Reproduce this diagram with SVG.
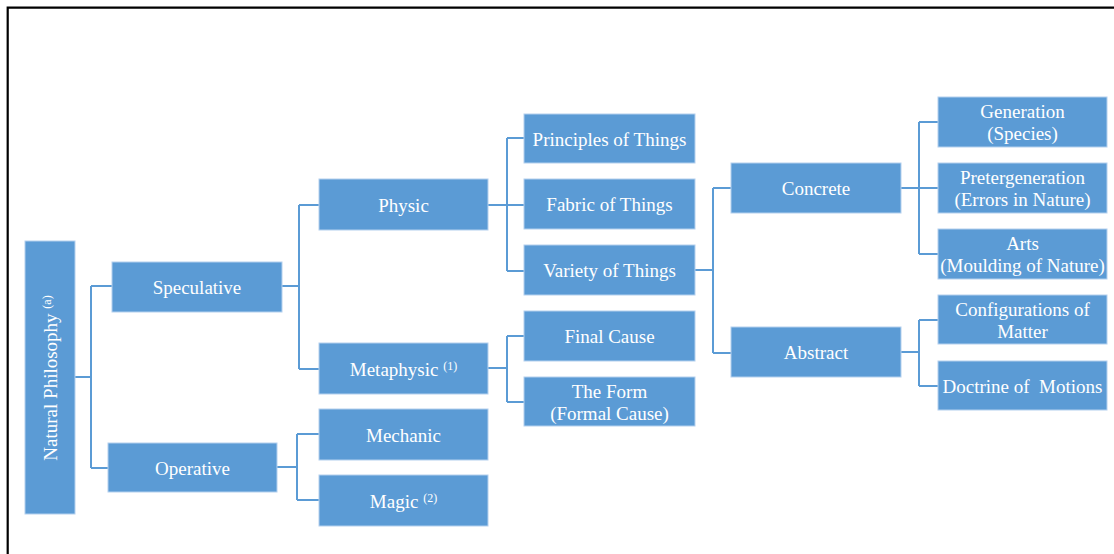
<svg xmlns="http://www.w3.org/2000/svg" width="1114" height="554" viewBox="0 0 1114 554">
<style>
.n rect{fill:#5B9BD5;stroke:#B4D0EE;stroke-width:1}
.n text{fill:#fff;font-family:"Liberation Serif","Times New Roman",serif;font-size:19px;text-anchor:middle}
.sup{font-size:12px}
.c path{fill:none;stroke:#5B9BD5;stroke-width:2}
</style>
<rect width="1114" height="554" fill="#fff"/>
<path d="M7.7,554 V7.7 H1114" fill="none" stroke="#000" stroke-width="2.2"/>
<g class="c">
<path d="M75,377 H91 M91,286 V468 M91,286 H112 M91,468 H108"/>
<path d="M282,286 H299 M299,205 V369 M299,205 H319 M299,369 H319"/>
<path d="M277,467 H297 M297,434 V500 M297,434 H319 M297,500 H319"/>
<path d="M488,205 H524 M507,138 V271 M507,138 H524 M507,271 H524"/>
<path d="M488,368 H507 M507,336 V402 M507,336 H524 M507,402 H524"/>
<path d="M695,270 H713 M713,188 V353 M713,188 H731 M713,353 H731"/>
<path d="M901,188 H938 M919,122 V254 M919,122 H938 M919,254 H938"/>
<path d="M901,352 H919 M919,320 V386 M919,320 H938 M919,386 H938"/>
</g>
<g id="natural-philosophy" class="n"><rect x="25" y="241" width="50" height="273"/><text transform="translate(57,378) rotate(-90)">Natural Philosophy <tspan class="sup" dy="-6">(a)</tspan></text></g>
<g id="speculative" class="n"><rect x="112" y="262" width="170" height="50"/><text x="197" y="294">Speculative</text></g>
<g id="operative" class="n"><rect x="108" y="443" width="169" height="49"/><text x="192.5" y="475">Operative</text></g>
<g id="physic" class="n"><rect x="319" y="179" width="169" height="51"/><text x="403.5" y="212">Physic</text></g>
<g id="metaphysic" class="n"><rect x="319" y="343" width="169" height="51"/><text x="403.5" y="376">Metaphysic <tspan class="sup" dy="-6">(1)</tspan></text></g>
<g id="mechanic" class="n"><rect x="319" y="409" width="169" height="51"/><text x="403.5" y="442">Mechanic</text></g>
<g id="magic" class="n"><rect x="319" y="475" width="169" height="51"/><text x="403.5" y="508">Magic <tspan class="sup" dy="-6">(2)</tspan></text></g>
<g id="principles" class="n"><rect x="524" y="114" width="171" height="49"/><text x="609.5" y="146">Principles of Things</text></g>
<g id="fabric" class="n"><rect x="524" y="179" width="171" height="50"/><text x="609.5" y="211">Fabric of Things</text></g>
<g id="variety" class="n"><rect x="524" y="245" width="171" height="50"/><text x="609.5" y="277">Variety of Things</text></g>
<g id="final-cause" class="n"><rect x="524" y="311" width="171" height="50"/><text x="609.5" y="343">Final Cause</text></g>
<g id="the-form" class="n"><rect x="524" y="377" width="171" height="49"/><text x="609.5" y="398">The Form</text><text x="609.5" y="420">(Formal Cause)</text></g>
<g id="concrete" class="n"><rect x="731" y="163" width="170" height="50"/><text x="816" y="195">Concrete</text></g>
<g id="abstract" class="n"><rect x="731" y="327" width="170" height="50"/><text x="816" y="359">Abstract</text></g>
<g id="generation" class="n"><rect x="938" y="97" width="169" height="50"/><text x="1022.5" y="118">Generation</text><text x="1022.5" y="140">(Species)</text></g>
<g id="pretergeneration" class="n"><rect x="938" y="163" width="169" height="50"/><text x="1022.5" y="184">Pretergeneration</text><text x="1022.5" y="206">(Errors in Nature)</text></g>
<g id="arts" class="n"><rect x="938" y="229" width="169" height="50"/><text x="1022.5" y="250">Arts</text><text x="1022.5" y="272">(Moulding of Nature)</text></g>
<g id="configurations" class="n"><rect x="938" y="295" width="169" height="49"/><text x="1022.5" y="316">Configurations of</text><text x="1022.5" y="338">Matter</text></g>
<g id="doctrine" class="n"><rect x="938" y="361" width="169" height="49"/><text x="1022.5" y="393" xml:space="preserve">Doctrine of  Motions</text></g>
</svg>
